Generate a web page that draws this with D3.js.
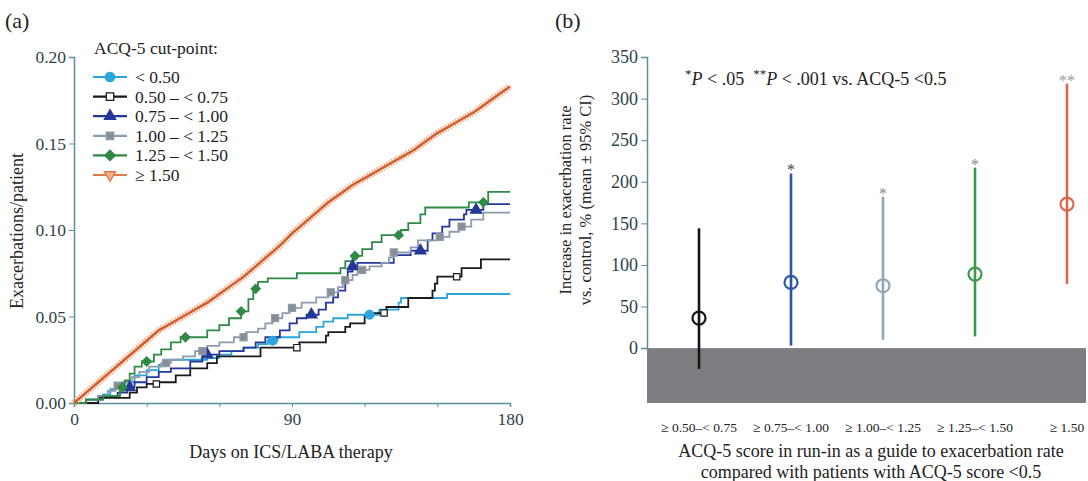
<!DOCTYPE html>
<html>
<head>
<meta charset="utf-8">
<script src="https://cdnjs.cloudflare.com/ajax/libs/d3/7.8.5/d3.min.js"></script>
<style>
  body { margin: 0; background: #fff; }
  text { font-family: "Liberation Serif", "Times New Roman", serif; fill: #222; }
</style>
</head>
<body>
<svg id="chart" width="1088" height="481"></svg>
<script>
// ---------- panel (a) data: step functions [day, exacerbations/patient] ----------
var seriesNames = ["< 0.50", "0.50 \u2013 < 0.75", "0.75 \u2013 < 1.00", "1.00 \u2013 < 1.25", "1.25 \u2013 < 1.50", "\u2265 1.50"]

var stepsLt050 = [[0,0],[5,0.002],[12,0.005],[15,0.008],[20,0.012],[25,0.016],[30,0.019],[35,0.022],[37,0.025],
  [55,0.026],[60,0.028],[65,0.030],[70,0.032],[76,0.034],[80,0.036],[84,0.038],[93,0.041],[100,0.044],[103,0.047],
  [107,0.049],[113,0.051],[126,0.054],[134,0.058],[135,0.0607],[154,0.063]]
var steps050 = [[0,0],[10,0.003],[23,0.006],[26,0.009],[30,0.011],[35,0.012],[42,0.016],[48,0.020],[55,0.023],
  [59,0.027],[77,0.032],[93,0.035],[104,0.039],[105,0.041],[112,0.044],[114,0.046],[120,0.050],[121,0.052],
  [129,0.0555],[138,0.0607],[148,0.065],[149,0.069],[150,0.073],[160,0.078],[168,0.083]]
var steps075 = [[0,0],[5,0.002],[10,0.004],[18,0.006],[22,0.009],[25,0.012],[30,0.015],[35,0.018],[40,0.020],
  [48,0.024],[53,0.028],[60,0.030],[70,0.032],[75,0.035],[79,0.038],[85,0.042],[89,0.046],[92,0.049],[96,0.051],
  [101,0.054],[104,0.058],[107,0.061],[109,0.065],[112,0.070],[113,0.076],[115,0.079],[117,0.081],[132,0.0855],
  [139,0.088],[146,0.094],[148,0.098],[152,0.102],[155,0.106],[161,0.109],[162,0.1116],[169,0.115]]
var steps100 = [[0,0],[5,0.002],[10,0.004],[14,0.007],[17,0.010],[20,0.012],[24,0.015],[27,0.018],[31,0.021],
  [36,0.023],[40,0.025],[45,0.027],[50,0.030],[55,0.033],[60,0.035],[66,0.038],[71,0.041],[76,0.043],[79,0.046],
  [82,0.049],[86,0.052],[89,0.055],[94,0.058],[100,0.061],[105,0.064],[109,0.067],[111,0.071],[115,0.074],
  [117,0.077],[122,0.079],[127,0.081],[130,0.084],[132,0.087],[139,0.090],[142,0.094],[150,0.096],[155,0.099],
  [159,0.102],[164,0.106],[169,0.110]]
var steps125 = [[0,0],[5,0.002],[12,0.004],[19,0.009],[21,0.013],[23,0.017],[25,0.021],[28,0.024],[33,0.028],
  [36,0.031],[40,0.035],[44,0.038],[55,0.042],[60,0.045],[64,0.049],[69,0.053],[72,0.060],[74,0.066],[76,0.070],
  [80,0.072],[92,0.075],[110,0.078],[112,0.082],[115,0.085],[119,0.089],[123,0.093],[127,0.097],[135,0.100],
  [138,0.104],[143,0.109],[145,0.113],[163,0.116],[171,0.122]]
// >= 1.50 read every 5 days
var line150 = [[0,0],[5,0.006],[10,0.012],[15,0.018],[20,0.024],[25,0.030],[30,0.036],[35,0.042],[40,0.046],
  [45,0.050],[50,0.054],[55,0.058],[60,0.063],[65,0.068],[70,0.073],[75,0.079],[80,0.085],[85,0.091],[90,0.098],
  [95,0.104],[100,0.110],[105,0.116],[110,0.121],[115,0.126],[120,0.130],[125,0.134],[130,0.138],[135,0.142],
  [140,0.146],[145,0.151],[150,0.156],[155,0.160],[160,0.164],[165,0.168],[170,0.173],[175,0.178],[180,0.183]]

// days where the curves carry a marker
var markLt050 = [82, 122]
var mark050 = [34, 92, 128, 158]
var mark075 = [23, 55, 98, 115, 143, 166]
var mark100 = [18, 38, 53, 70, 83, 90, 106, 112, 119, 132, 151, 160]
var mark125 = [20, 30, 46, 69, 75, 116, 134, 169]

var xTicksA = [0, 30, 60, 90, 120, 150, 180]
var xLabelsA = [0, 90, 180]
var yTicksA = [0, 0.05, 0.10, 0.15, 0.20]

// ---------- panel (b) data ----------
var catsB = ["\u2265 0.50\u2013< 0.75", "\u2265 0.75\u2013< 1.00", "\u2265 1.00\u2013< 1.25", "\u2265 1.25\u2013< 1.50", "\u2265 1.50"]
var meanB = [36, 79, 75, 89, 173]
var lowB = [-25, 3, 10, 14, 77]
var highB = [144, 210, 182, 217, 318]
var starsB = ["", "*", "*", "*", "**"]
var yTicksB = [0, 50, 100, 150, 200, 250, 300, 350]

var axisColor = "#5e8e9c"
var tickText = "#2e3f48"
var svg = d3.select("#chart")

// ================= panel (a) =================
var xA = d3.scaleLinear().domain([0, 180]).range([74, 510])
var yA = d3.scaleLinear().domain([0, 0.20]).range([403, 57])

var gx = svg.append("g").attr("transform", "translate(0," + 403 + ")")
  .call(d3.axisBottom(xA).tickValues(xTicksA).tickSize(4).tickFormat(function(d){ return xLabelsA.indexOf(d) >= 0 ? d : "" }))
gx.select(".domain").attr("stroke", axisColor).attr("stroke-width", 1.5)
gx.selectAll(".tick line").attr("stroke", axisColor)
gx.selectAll(".tick text").attr("font-size", 17.5).attr("dy", "0.85em").style("font-family", "Liberation Serif").style("fill", tickText)

var gy = svg.append("g").attr("transform", "translate(" + 74 + ",0)")
  .call(d3.axisLeft(yA).tickValues(yTicksA).tickSize(5).tickFormat(d3.format(".2f")))
gy.select(".domain").attr("stroke", axisColor).attr("stroke-width", 1.5)
gy.selectAll(".tick line").attr("stroke", axisColor)
gy.selectAll(".tick text").attr("font-size", 17.5).attr("x", -8).style("font-family", "Liberation Serif").style("fill", tickText)

var stepLine = d3.line().curve(d3.curveStepAfter)
  .x(function(d){ return xA(d[0]) }).y(function(d){ return yA(d[1]) })

function withEnd(steps) {
  return steps.concat([[180, steps[steps.length - 1][1]]])
}
function valueAt(steps, day) {
  var i = d3.bisector(function(d){ return d[0] }).right(steps, day) - 1
  return steps[Math.max(0, i)][1]
}

var series = [
  {steps: stepsLt050, marks: markLt050, color: "#2ba5dc", sym: d3.symbolCircle, fill: "#2ba5dc", size: 60, rot: 0},
  {steps: steps050, marks: mark050, color: "#1a1a1a", sym: d3.symbolSquare, fill: "#fff", size: 40, rot: 0},
  {steps: steps075, marks: mark075, color: "#24389a", sym: d3.symbolTriangle, fill: "#24389a", size: 55, rot: 0},
  {steps: steps100, marks: mark100, color: "#8c9cae", sym: d3.symbolSquare, fill: "#8a8d93", size: 50, rot: 0},
  {steps: steps125, marks: mark125, color: "#2f8a45", sym: d3.symbolSquare, fill: "#2f8a45", size: 42, rot: 45}
]

series.forEach(function(s) {
  svg.append("path").datum(withEnd(s.steps))
    .attr("d", stepLine).attr("fill", "none")
    .attr("stroke", s.color).attr("stroke-width", 1.8)
})

// >= 1.50 drawn as a fuzzy line of dense open triangles
var smoothLine = d3.line().x(function(d){ return xA(d[0]) }).y(function(d){ return yA(d[1]) })
svg.append("path").datum(line150).attr("d", smoothLine).attr("fill", "none")
  .attr("stroke", "#ee9a70").attr("stroke-width", 7).attr("stroke-dasharray", "1.3 1.5").attr("opacity", 0.85)
svg.append("path").datum(line150).attr("d", smoothLine).attr("fill", "none")
  .attr("stroke", "#d55d2a").attr("stroke-width", 2.4)

series.forEach(function(s) {
  svg.selectAll(null).data(s.marks).enter().append("path")
    .attr("d", d3.symbol().type(s.sym).size(s.size))
    .attr("transform", function(d){ return "translate(" + xA(d) + "," + yA(valueAt(s.steps, d)) + ") rotate(" + s.rot + ")" })
    .attr("fill", s.fill).attr("stroke", s.color).attr("stroke-width", 1.2)
})

// legend
var legendColors = ["#2ba5dc", "#1a1a1a", "#24389a", "#8c9cae", "#2f8a45", "#e07a4a"]
var legendSym = [d3.symbolCircle, d3.symbolSquare, d3.symbolTriangle, d3.symbolSquare, d3.symbolSquare, d3.symbolTriangle]
var legendFill = ["#2ba5dc", "#fff", "#24389a", "#8a8d93", "#2f8a45", "#f3b08e"]
var legendRot = [0, 0, 0, 0, 45, 180]
svg.append("text").attr("x", 94).attr("y", 54).attr("font-size", 17.5).text("ACQ-5 cut-point:")
var lg = svg.selectAll(".lg").data(seriesNames).enter().append("g")
  .attr("transform", function(d, i){ return "translate(0," + (77 + i * 19.6) + ")" })
lg.append("line").attr("x1", 93).attr("x2", 127).attr("stroke", function(d, i){ return legendColors[i] }).attr("stroke-width", 2.2)
lg.append("path")
  .attr("d", function(d, i){ return d3.symbol().type(legendSym[i]).size(i == 0 ? 70 : 55)() })
  .attr("transform", function(d, i){ return "translate(110,0) rotate(" + legendRot[i] + ")" })
  .attr("fill", function(d, i){ return legendFill[i] })
  .attr("stroke", function(d, i){ return legendColors[i] }).attr("stroke-width", 1.3)
lg.append("text").attr("x", 135).attr("y", 6).attr("font-size", 17.5).text(function(d){ return d })

svg.append("text").attr("x", 5).attr("y", 28).attr("font-size", 22).text("(a)")
svg.append("text").attr("x", 291).attr("y", 458).attr("text-anchor", "middle").attr("font-size", 18).text("Days on ICS/LABA therapy")
svg.append("text").attr("transform", "translate(23,231) rotate(-90)").attr("text-anchor", "middle").attr("font-size", 18).text("Exacerbations/patient")

// ================= panel (b) =================
var xB = d3.scalePoint().domain(catsB).range([699, 1067])
var yB = d3.scaleLinear().domain([-66, 350]).range([403, 57])

svg.append("rect").attr("x", 647).attr("y", yB(0)).attr("width", 1086 - 647).attr("height", yB(-66) - yB(0))
  .attr("fill", "#7e7e82")

var gyB = svg.append("g").attr("transform", "translate(647,0)")
  .call(d3.axisLeft(d3.scaleLinear().domain([0, 350]).range([yB(0), yB(350)])).tickValues(yTicksB).tickSize(6))
gyB.select(".domain").attr("stroke", axisColor).attr("stroke-width", 1.5)
gyB.selectAll(".tick line").attr("stroke", axisColor)
gyB.selectAll(".tick text").attr("font-size", 18).attr("x", -9).style("font-family", "Liberation Serif").style("fill", tickText)

var colorsB = ["#151515", "#2b55a6", "#91a6b8", "#3d9a4c", "#d9694c"]
var starColors = ["#333", "#444", "#8a8a8a", "#8a8a8a", "#9a9a9a"]

svg.selectAll(".eb").data(catsB).enter().append("line")
  .attr("x1", function(d){ return xB(d) }).attr("x2", function(d){ return xB(d) })
  .attr("y1", function(d, i){ return yB(lowB[i]) }).attr("y2", function(d, i){ return yB(highB[i]) })
  .attr("stroke", function(d, i){ return colorsB[i] }).attr("stroke-width", 2.6)
svg.selectAll(".mc").data(catsB).enter().append("circle")
  .attr("cx", function(d){ return xB(d) }).attr("cy", function(d, i){ return yB(meanB[i]) }).attr("r", 6.5)
  .attr("fill", "none").attr("stroke", function(d, i){ return colorsB[i] }).attr("stroke-width", 2.2)
svg.selectAll(".st").data(catsB).enter().append("text")
  .attr("x", function(d){ return xB(d) }).attr("y", function(d, i){ return yB(highB[i]) + 2 })
  .attr("text-anchor", "middle").attr("font-size", 16)
  .style("fill", function(d, i){ return starColors[i] })
  .text(function(d, i){ return starsB[i] })

svg.selectAll(".cl").data(catsB).enter().append("text")
  .attr("x", function(d){ return xB(d) }).attr("y", 432).attr("text-anchor", "middle").attr("font-size", 13.5)
  .text(function(d){ return d })

var note = svg.append("text").attr("x", 685).attr("y", 85).attr("font-size", 18)
note.append("tspan").attr("dy", -7).attr("font-size", 13).text("*")
note.append("tspan").attr("dy", 7).attr("font-style", "italic").text("P")
note.append("tspan").text(" < .05")
note.append("tspan").attr("dx", 9).attr("dy", -7).attr("font-size", 13).text("**")
note.append("tspan").attr("dy", 7).attr("font-style", "italic").text("P")
note.append("tspan").text(" < .001 vs. ACQ-5 <0.5")

svg.append("text").attr("x", 555).attr("y", 28).attr("font-size", 22).text("(b)")
svg.append("text").attr("x", 871).attr("y", 457).attr("text-anchor", "middle").attr("font-size", 18)
  .text("ACQ-5 score in run-in as a guide to exacerbation rate")
svg.append("text").attr("x", 871).attr("y", 478).attr("text-anchor", "middle").attr("font-size", 18)
  .text("compared with patients with ACQ-5 score <0.5")
svg.append("text").attr("transform", "translate(571,200) rotate(-90)").attr("text-anchor", "middle").attr("font-size", 16.5)
  .text("Increase in exacerbation rate")
svg.append("text").attr("transform", "translate(591,200) rotate(-90)").attr("text-anchor", "middle").attr("font-size", 16.5)
  .text("vs. control, % (mean \u00b1 95% CI)")
</script>
</body>
</html>
